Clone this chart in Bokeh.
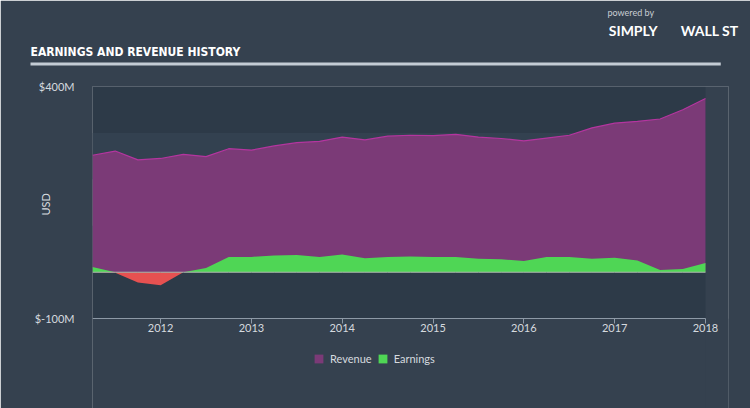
import numpy as np
from bokeh.plotting import figure
from bokeh.models import (Range1d, FixedTicker, Legend, LegendItem, ColumnDataSource,
                          Title, BoxAnnotation)
from bokeh.embed import file_html
from bokeh.resources import INLINE

# ---- data (USD millions) ----
years = [2011.25, 2011.5, 2011.75, 2012.0, 2012.25, 2012.5, 2012.75,
         2013.0, 2013.25, 2013.5, 2013.75, 2014.0, 2014.25, 2014.5, 2014.75,
         2015.0, 2015.25, 2015.5, 2015.75, 2016.0, 2016.25, 2016.5, 2016.75,
         2017.0, 2017.25, 2017.5, 2017.75, 2018.0]
revenue = [252, 261, 242, 245, 254, 249, 266,
           263, 272, 279, 282, 291, 285, 293, 295,
           294, 297, 291, 288, 283, 289, 295, 311,
           321, 325, 330, 350, 374]
earnings = [11, -1, -22, -28, 0, 9, 33,
            33, 36, 37, 33, 38, 30, 33, 34,
            33, 33, 29, 28, 24, 33, 33, 29,
            31, 25, 5, 7, 20]
tick_years = [2012, 2013, 2014, 2015, 2016, 2017, 2018]
y_ticks = [-100, 0, 100, 200, 300, 400]
y_labels = {400: "$400M", -100: "$-100M"}
title_text = "EARNINGS AND REVENUE HISTORY"

BG = "#35414f"
PLOT_BG = "#2d3a48"
BAND = "#334150"
REV_FILL = "#7b3a77"
REV_LINE = "#b4359f"
GREEN = "#4fd655"
RED = "#e65151"
TXT = "#d5dadf"
FONT = "Lato"

Y_MIN, Y_MAX = -100, 400
X0, X1 = years[0], years[-1]
# frame extends below and right of the chart box to host the legend and last tick label
p = figure(width=750, height=408, output_backend="svg", toolbar_location=None,
           x_range=Range1d(X0, 2018.2533), y_range=Range1d(-293.5, Y_MAX),
           min_border_left=92, min_border_right=22, min_border_top=86, min_border_bottom=0)
p.background_fill_color = BG
p.border_fill_color = BG
p.outline_line_color = None

# cover the frame area outside the chart box with the page colour
p.add_layout(BoxAnnotation(top=Y_MIN, fill_color=BG, fill_alpha=1, line_color=None,
                           level="underlay"))
p.add_layout(BoxAnnotation(left=X1, fill_color=BG, fill_alpha=1, line_color=None,
                           level="underlay"))
# chart box background and alternating bands
p.add_layout(BoxAnnotation(left=X0, right=X1, bottom=Y_MIN, top=Y_MAX, fill_color=PLOT_BG,
                           fill_alpha=1, line_color=None, level="underlay"))
for lo, hi in zip(y_ticks[1::2], y_ticks[2::2]):
    p.add_layout(BoxAnnotation(left=X0, right=X1, bottom=lo, top=hi, fill_color=BAND,
                               fill_alpha=1, line_color=None, level="underlay"))

e = np.array(earnings, dtype=float)
src = ColumnDataSource(dict(x=years, rev=revenue, pos=np.maximum(e, 0),
                            neg=np.minimum(e, 0), zero=np.zeros(len(e))))

r_rev = p.varea(x="x", y1="zero", y2="rev", source=src, fill_color=REV_FILL)
p.line(x="x", y="rev", source=src, line_color=REV_LINE, line_width=1.2)
r_earn = p.varea(x="x", y1="zero", y2="pos", source=src, fill_color=GREEN)
p.varea(x="x", y1="neg", y2="zero", source=src, fill_color=RED)
p.line(x="x", y="zero", source=src, line_color="#a9b8ae", line_width=1)

p.xaxis.fixed_location = Y_MIN
p.xaxis.bounds = (X0, X1)
p.xaxis.ticker = FixedTicker(ticks=tick_years)
p.xaxis.axis_line_color = "#8d99a6"
p.xaxis.major_tick_line_color = "#8d99a6"
p.xaxis.major_tick_out = 5
p.xaxis.major_tick_in = 0
p.xaxis.minor_tick_line_color = None
p.xaxis.major_label_text_color = TXT
p.xaxis.major_label_text_font = FONT
p.xaxis.major_label_text_font_size = "11px"
p.xaxis.major_label_standoff = 0

p.yaxis.ticker = FixedTicker(ticks=y_ticks)
p.yaxis.major_label_overrides = {t: y_labels.get(t, "") for t in y_ticks}
p.yaxis.axis_line_color = None
p.yaxis.major_tick_line_color = None
p.yaxis.minor_tick_line_color = None
p.yaxis.major_label_text_color = TXT
p.yaxis.major_label_text_font = FONT
p.yaxis.major_label_text_font_size = "11px"
p.yaxis.major_label_standoff = 12

p.xgrid.grid_line_color = None
p.ygrid.grid_line_color = None

# y axis title as a side title
p.add_layout(Title(text="USD", align="left", offset=193, standoff=-40,
                   text_color=TXT, text_font=FONT, text_font_style="normal",
                   text_font_size="11px"), "left")

# ---- above panel: spacer, underline, title, logo ----
NB = "\u00a0"
p.add_layout(Title(text=" ", text_font_size="1px", standoff=18), "above")
p.add_layout(Title(text=" ", text_font_size="1px", align="left", offset=-62, standoff=0,
                   padding=(0, 690, 1, 1), background_fill_color="#c3cbd4"), "above")
p.add_layout(Title(text=title_text, align="left", offset=-62, standoff=4,
                   text_color="#ffffff", text_font="DejaVu Sans Condensed, Roboto",
                   text_font_style="bold", text_font_size="12px"), "above")
p.add_layout(Title(text="SIMPLY" + NB * 7 + "WALL ST", align="right", offset=-10, standoff=4,
                   text_color="#ffffff", text_font=FONT, text_font_style="bold",
                   text_font_size="14px"), "above")
p.add_layout(Title(text="powered by", align="left", offset=515, standoff=0,
                   text_color="#c8cdd3", text_font=FONT, text_font_style="normal",
                   text_font_size="9px"), "above")

legend = Legend(items=[LegendItem(label="Revenue", renderers=[r_rev]),
                       LegendItem(label="Earnings", renderers=[r_earn])],
                orientation="horizontal", location=(221, 40),
                glyph_width=11, glyph_height=11, label_standoff=6, spacing=5,
                padding=0, margin=0, border_line_color=None, background_fill_alpha=0,
                label_text_color=TXT, label_text_font=FONT, label_text_font_size="11px",
                label_height=20)
p.add_layout(legend, "center")

open("out.html", "w").write(file_html(p, INLINE))
